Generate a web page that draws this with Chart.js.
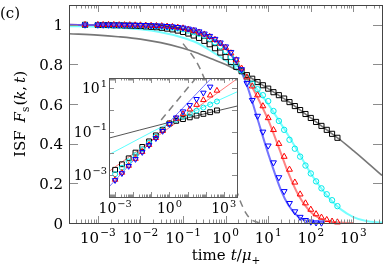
<!DOCTYPE html>
<html>
<head>
<meta charset="utf-8">
<script src="https://cdn.jsdelivr.net/npm/chart.js@4.4.0/dist/chart.umd.min.js"></script>
<style>
html, body { margin: 0; padding: 0; background: #fff; }
#wrap { position: relative; width: 387px; height: 269px; }
#main { position: absolute; left: 0; top: 0; }
#inset { position: absolute; left: 60px; top: 70px; }
</style>
</head>
<body>
<div id="wrap">
  <canvas id="main" width="387" height="269"></canvas>
  <canvas id="inset" width="185" height="150"></canvas>
</div>
<script>
// ---- main panel: F_s(k,t) markers ----
const times = [0.0005, 0.001, 0.00133, 0.00178, 0.00237, 0.00316, 0.00422, 0.00562, 0.0075,
  0.01, 0.0133, 0.0178, 0.0237, 0.0316, 0.0422, 0.0562, 0.075,
  0.1, 0.133, 0.178, 0.237, 0.316, 0.422, 0.562, 0.75,
  1, 1.33, 1.78, 2.37, 3.16, 4.22, 5.62, 7.5,
  10, 13.3, 17.8, 23.7, 31.6, 42.2, 56.2, 75,
  100, 133, 178, 237, 316, 422];

const blackF = [1.0, 0.999, 0.999, 0.999, 0.998, 0.998, 0.997, 0.996, 0.995,
  0.994, 0.992, 0.990, 0.988, 0.985, 0.981, 0.977, 0.971,
  0.964, 0.956, 0.946, 0.934, 0.919, 0.902, 0.882, 0.86,
  0.837, 0.812, 0.788, 0.766, 0.746, 0.728, 0.711, 0.695,
  0.678, 0.66, 0.645, 0.628, 0.61, 0.59, 0.57, 0.55,
  0.53, 0.51, 0.49, 0.47, 0.45, 0.43];
const cyanF = [1.0, 1.0, 0.999, 0.999, 0.999, 0.999, 0.998, 0.998, 0.997,
  0.997, 0.996, 0.995, 0.993, 0.991, 0.989, 0.986, 0.982,
  0.978, 0.971, 0.963, 0.955, 0.945, 0.93, 0.912, 0.892,
  0.868, 0.838, 0.805, 0.77, 0.735, 0.703, 0.675, 0.645,
  0.615, 0.565, 0.515, 0.47, 0.42, 0.375, 0.335, 0.29,
  0.25, 0.21, 0.175, 0.145, 0.115, 0.085];
const redF = [1.0, 1.0, 1.0, 1.0, 1.0, 0.999, 0.999, 0.999, 0.998,
  0.998, 0.997, 0.996, 0.995, 0.994, 0.992, 0.99, 0.987,
  0.983, 0.977, 0.97, 0.962, 0.952, 0.94, 0.925, 0.906,
  0.885, 0.857, 0.822, 0.78, 0.735, 0.69, 0.645, 0.59,
  0.53, 0.47, 0.40, 0.335, 0.27, 0.205, 0.145, 0.10,
  0.068, 0.045, 0.028, 0.016, 0.008, 0.004];
const blueF = [1.0, 1.0, 1.0, 1.0, 1.0, 1.0, 0.999, 0.999, 0.999,
  0.998, 0.998, 0.997, 0.996, 0.995, 0.993, 0.991, 0.988,
  0.985, 0.98, 0.975, 0.966, 0.955, 0.943, 0.928, 0.91,
  0.89, 0.862, 0.825, 0.775, 0.705, 0.62, 0.54, 0.46,
  0.39, 0.305, 0.23, 0.16, 0.10, 0.058, 0.03, 0.014,
  0.006, 0.002, 0.001];

// ---- main panel: fitted curves ----
const fitTimes = [2.1e-4, 0.001, 0.003, 0.01, 0.03, 0.1, 0.2, 0.5, 1, 2, 3, 5,
  10, 20, 30, 50, 100, 200, 300, 500, 1000, 2000, 4700];
const grayFit = [0.955, 0.948, 0.94, 0.928, 0.91, 0.882, 0.86, 0.826, 0.8, 0.768, 0.748, 0.718,
  0.678, 0.637, 0.613, 0.578, 0.53, 0.482, 0.453, 0.418, 0.365, 0.31, 0.24];
const cyanFit = [0.993, 0.99, 0.985, 0.977, 0.962, 0.935, 0.912, 0.862, 0.82, 0.77, 0.735, 0.685,
  0.6, 0.5, 0.44, 0.36, 0.25, 0.16, 0.115, 0.07, 0.03, 0.01, 0.002];
const redFit = [1.0, 0.999, 0.998, 0.995, 0.99, 0.978, 0.965, 0.928, 0.88, 0.8, 0.74, 0.655,
  0.52, 0.35, 0.25, 0.145, 0.055, 0.016, 0.006, 0.002, 0.0];
const blueFit = [1.0, 0.999, 0.998, 0.996, 0.992, 0.982, 0.97, 0.93, 0.885, 0.79, 0.71, 0.56,
  0.35, 0.165, 0.09, 0.033, 0.006, 0.0005];
const dashTimes = [0.1, 0.2, 0.3, 0.5, 0.7, 1, 1.5, 2, 3, 4, 5, 6];
const dashF = [0.905, 0.819, 0.741, 0.607, 0.497, 0.368, 0.223, 0.135, 0.05, 0.018, 0.007, 0.002];

// ---- inset: -ln F_s(k,t) ----
const insetTimes = [0.001, 0.00237, 0.00562, 0.0133, 0.0316, 0.075, 0.178, 0.422,
  1, 2.37, 5.62, 13.3, 31.6, 75, 178, 422];
const insetBlack = [0.00178, 0.0032, 0.006, 0.011, 0.02, 0.036, 0.068, 0.123,
  0.24, 0.316, 0.38, 0.457, 0.55, 0.66, 0.79, 0.955];
const insetCyan = [0.00112, 0.0022, 0.0043, 0.0083, 0.0158, 0.031, 0.06, 0.117,
  0.229, 0.355, 0.49, 0.676, 0.933, 1.29, 1.78, 2.45];
const insetRed = [0.00063, 0.00132, 0.00275, 0.00575, 0.012, 0.025, 0.052, 0.11,
  0.234, 0.40, 0.65, 1.07, 1.74, 2.88, 4.7, 7.8];
const insetBlue = [0.00059, 0.00123, 0.00263, 0.0055, 0.0115, 0.024, 0.05, 0.107,
  0.224, 0.447, 0.85, 1.66, 3.16, 6.17, 11.7];
const insetFitTimes = [4.6e-4, 1, 5400];
const insetGrayFit = [0.051, 0.27, 1.51];
const insetCyanFit = [0.0089, 0.25, 6.8];
const insetRedFit = [0.0015, 0.155, 26.9];
const insetBlueFit = [0.00029, 0.28, 480];
const insetDashT = [0.35, 40];

// tick labels (exponents of 10) and linear ticks
const mainXExp = [-3, -2, -1, 0, 1, 2, 3];
const mainYTicks = [0, 0.2, 0.4, 0.6, 0.8, 1];
const mainYLabels = ['0', '0.2', '0.4', '0.6', '0.8', '1'];
const insetXExp = [-3, 0, 3];
const insetYExp = [-3, -1, 1];

const SERIF = '"DejaVu Serif", serif';

function pts(xs, ys) {
  return ys.map((y, i) => ({ x: xs[i], y: y }));
}

function logTicks(min, max, majorLen, minorLen) {
  const out = [];
  for (let e = Math.floor(Math.log10(min)); e <= Math.ceil(Math.log10(max)); e++) {
    for (let m = 1; m <= 9; m++) {
      const v = m * Math.pow(10, e);
      if (v < min || v > max) continue;
      out.push([v, m === 1 ? majorLen : minorLen]);
    }
  }
  return out;
}

function drawPow(ctx, x, y, exp, size, align) {
  const sup = exp < 0 ? '\u2212' + (-exp) : String(exp);
  const small = size * 0.7;
  ctx.font = size + 'px ' + SERIF;
  const wb = ctx.measureText('10').width;
  ctx.font = small + 'px ' + SERIF;
  const ws = ctx.measureText(sup).width;
  const w = wb + 1 + ws;
  const x0 = align === 'center' ? x - w / 2 : x - w;
  ctx.font = size + 'px ' + SERIF;
  ctx.fillText('10', x0, y);
  ctx.font = small + 'px ' + SERIF;
  ctx.fillText(sup, x0 + wb + 1, y - size * 0.45);
}

function richWidth(ctx, pieces) {
  return pieces.reduce((s, p) => { ctx.font = p.f; return s + ctx.measureText(p.t).width + (p.gap || 0); }, 0);
}
function drawRich(ctx, pieces, x, y) {
  let cx = x;
  pieces.forEach(p => {
    ctx.font = p.f;
    ctx.fillText(p.t, cx, y + (p.dy || 0));
    cx += ctx.measureText(p.t).width + (p.gap || 0);
  });
}

// frame, inward ticks and tick labels
const axisDecor = {
  id: 'axisDecor',
  beforeDraw(chart, args, o) {
    if (!o.fill) return;
    const a = chart.chartArea;
    chart.ctx.save();
    chart.ctx.fillStyle = o.fill;
    chart.ctx.fillRect(a.left, a.top, a.right - a.left, a.bottom - a.top);
    chart.ctx.restore();
  },
  afterDraw(chart, args, o) {
    const ctx = chart.ctx, a = chart.chartArea;
    const xs = chart.scales.x, ys = chart.scales.y;
    ctx.save();
    ctx.lineWidth = 1;
    ctx.strokeStyle = o.tickColor;
    ctx.beginPath();
    o.xTicks.forEach(([v, len]) => {
      const p = Math.round(xs.getPixelForValue(v)) + 0.5;
      ctx.moveTo(p, a.bottom); ctx.lineTo(p, a.bottom - len);
      ctx.moveTo(p, a.top); ctx.lineTo(p, a.top + len);
    });
    o.yTicks.forEach(([v, len]) => {
      const p = Math.round(ys.getPixelForValue(v)) + 0.5;
      ctx.moveTo(a.left, p); ctx.lineTo(a.left + len, p);
      ctx.moveTo(a.right, p); ctx.lineTo(a.right - len, p);
    });
    ctx.stroke();
    ctx.strokeStyle = o.frameColor;
    ctx.strokeRect(Math.round(a.left) + 0.5, Math.round(a.top) + 0.5,
      Math.round(a.right - a.left), Math.round(a.bottom - a.top));

    ctx.fillStyle = '#000';
    ctx.textBaseline = 'alphabetic';
    ctx.textAlign = 'left';
    o.xLabelExp.forEach(e => drawPow(ctx, xs.getPixelForValue(Math.pow(10, e)), a.bottom + o.xLabelDy, e, o.fontSize, 'center'));
    if (o.yLabelExp) {
      o.yLabelExp.forEach(e => drawPow(ctx, a.left - o.yLabelDx, ys.getPixelForValue(Math.pow(10, e)) + 5, e, o.fontSize, 'right'));
    }
    if (o.yLabelText) {
      ctx.font = o.fontSize + 'px ' + SERIF;
      ctx.textAlign = 'right';
      o.yLabelVals.forEach((v, i) => ctx.fillText(o.yLabelText[i], a.left - o.yLabelDx, ys.getPixelForValue(v) + 5.5));
      ctx.textAlign = 'left';
    }
    if (o.titles) o.titles(ctx, a);
    ctx.restore();
  }
};

const up = '15px ' + SERIF, it = 'italic 15px ' + SERIF, sm = '10.5px ' + SERIF;

function mainTitles(ctx, a) {
  ctx.font = up;
  ctx.fillText('(c)', 0, 18);
  const xt = [
    { t: 'time', f: up, gap: 5 }, { t: 't', f: it }, { t: '/', f: up }, { t: '\u03bc', f: it }, { t: '+', f: sm, dy: 3.5 }
  ];
  drawRich(ctx, xt, 226 - richWidth(ctx, xt) / 2, 260);
  const yt = [
    { t: 'ISF', f: up, gap: 8 }, { t: 'F', f: it }, { t: 's', f: sm, dy: 3.5, gap: 1 }, { t: '(', f: up },
    { t: 'k', f: it }, { t: ',', f: up, gap: 3 }, { t: 't', f: it }, { t: ')', f: up }
  ];
  ctx.save();
  ctx.translate(25, 114);
  ctx.rotate(-Math.PI / 2);
  drawRich(ctx, yt, -richWidth(ctx, yt) / 2, 0);
  ctx.restore();
}

function markers(data, style, color, radius, rot) {
  return {
    data: data, showLine: false, pointStyle: style, pointRadius: radius, pointRotation: rot || 0,
    pointBorderColor: color, pointBackgroundColor: 'rgba(0,0,0,0)', pointBorderWidth: 1, clip: 6
  };
}
function curve(data, color, width, dash) {
  return {
    data: data, showLine: true, pointRadius: 0, borderColor: color, borderWidth: width,
    borderDash: dash || [], cubicInterpolationMode: 'monotone', fill: false
  };
}

const common = {
  responsive: false,
  animation: false,
  events: [],
  plugins: { legend: { display: false }, tooltip: { enabled: false } }
};

const mainXMin = 2.1e-4, mainXMax = 4700;
new Chart(document.getElementById('main'), {
  type: 'scatter',
  data: {
    datasets: [
      markers(pts(times, blueF), 'triangle', '#0000ff', 3.4, 180),
      markers(pts(times, redF), 'triangle', '#ff0000', 3.4, 0),
      markers(pts(times, cyanF), 'circle', '#00e8e8', 2.7),
      markers(pts(times, blackF), 'rect', '#000000', 3.6),
      curve(pts(dashTimes, dashF), '#808080', 1.5, [7, 5]),
      curve(pts(fitTimes, blueFit), 'rgba(70,70,255,0.75)', 2),
      curve(pts(fitTimes, redFit), 'rgba(255,90,90,0.75)', 2),
      curve(pts(fitTimes, cyanFit), 'rgba(110,255,255,0.95)', 2),
      curve(pts(fitTimes, grayFit), '#777777', 1.6)
    ]
  },
  options: Object.assign({}, common, {
    layout: { padding: { left: 69, right: 2, top: 2, bottom: 46 } },
    scales: {
      x: { type: 'logarithmic', min: mainXMin, max: mainXMax, display: false },
      y: { type: 'linear', min: 0, max: 1.1, display: false }
    },
    plugins: Object.assign({}, common.plugins, {
      axisDecor: {
        tickColor: '#8c8c8c', frameColor: '#444',
        xTicks: logTicks(mainXMin, mainXMax, 7, 3.5),
        yTicks: mainYTicks.map(v => [v, 9]),
        xLabelExp: mainXExp, xLabelDy: 20, fontSize: 15,
        yLabelVals: mainYTicks, yLabelText: mainYLabels, yLabelDx: 6,
        titles: mainTitles
      }
    })
  }),
  plugins: [axisDecor]
});

const insXMin = 4.6e-4, insXMax = 5400, insYMin = 1e-4, insYMax = 29.5;
new Chart(document.getElementById('inset'), {
  type: 'scatter',
  data: {
    datasets: [
      markers(pts(insetTimes, insetBlue), 'triangle', '#0000ff', 3.2, 180),
      markers(pts(insetTimes, insetRed), 'triangle', '#ff0000', 3.2, 0),
      markers(pts(insetTimes, insetCyan), 'circle', '#00e8e8', 2.5),
      markers(pts(insetTimes, insetBlack), 'rect', '#000000', 3.4),
      curve(pts(insetDashT, insetDashT), '#808080', 1.5, [7, 5]),
      curve(pts(insetFitTimes, insetBlueFit), 'rgba(70,70,255,0.75)', 1),
      curve(pts(insetFitTimes, insetRedFit), 'rgba(255,90,90,0.8)', 1),
      curve(pts(insetFitTimes, insetCyanFit), 'rgba(90,255,255,1)', 1),
      curve(pts(insetFitTimes, insetGrayFit), '#555555', 1)
    ]
  },
  options: Object.assign({}, common, {
    layout: { padding: { left: 49, right: 8, top: 8, bottom: 23 } },
    scales: {
      x: { type: 'logarithmic', min: insXMin, max: insXMax, display: false },
      y: { type: 'logarithmic', min: insYMin, max: insYMax, display: false }
    },
    plugins: Object.assign({}, common.plugins, {
      axisDecor: {
        fill: '#ffffff', tickColor: '#8c8c8c', frameColor: '#555',
        xTicks: logTicks(insXMin, insXMax, 5, 2.5),
        yTicks: logTicks(insYMin, insYMax, 5, 0).filter(t => t[1] > 0),
        xLabelExp: insetXExp, xLabelDy: 16, fontSize: 14,
        yLabelExp: insetYExp, yLabelDx: 2
      }
    })
  }),
  plugins: [axisDecor]
});
</script>
</body>
</html>
